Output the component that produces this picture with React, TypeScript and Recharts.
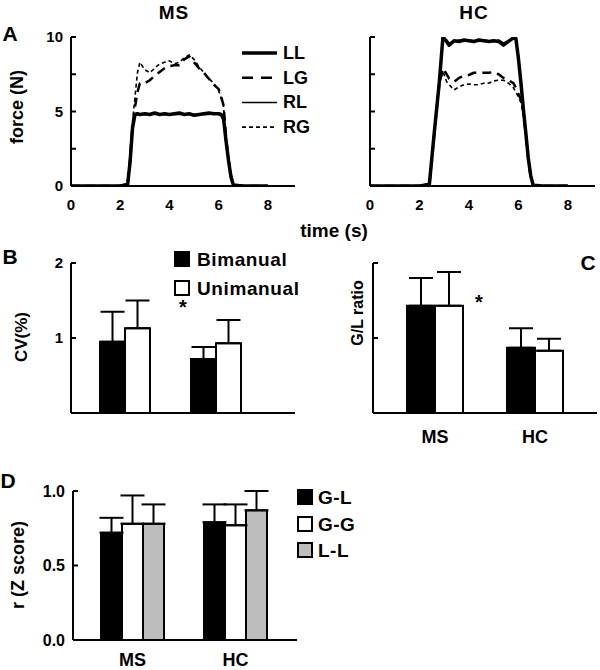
import React from "react";
import { LineChart, Line, XAxis, YAxis, BarChart, Bar, ErrorBar } from "recharts";

const FONT = "'Liberation Sans', Arial, Helvetica, sans-serif";

// ---- panel A: force traces ----
const msTime = [0, 0.5, 1, 1.5, 2, 2.3, 2.4, 2.5, 2.6, 2.7, 2.8, 3.0, 3.2, 3.4, 3.6, 3.8, 4.0, 4.2, 4.4, 4.6, 4.8, 5.0, 5.2, 5.4, 5.6, 5.8, 6.0, 6.1, 6.2, 6.3, 6.4, 6.5, 6.6, 7, 7.5, 8];
const msLL = [0, 0, 0, 0, 0, 0.1, 1.6, 3.9, 4.8, 4.85, 4.8, 4.85, 4.8, 4.9, 4.8, 4.85, 4.8, 4.85, 4.9, 4.8, 4.85, 4.75, 4.8, 4.85, 4.9, 4.85, 4.85, 4.8, 4.5, 3.0, 1.7, 0.6, 0.05, 0, 0, 0];
const msRL = [0, 0, 0, 0, 0, 0.2, 2.0, 4.2, 4.75, 4.8, 4.85, 4.8, 4.85, 4.8, 4.85, 4.8, 4.85, 4.8, 4.8, 4.85, 4.8, 4.8, 4.85, 4.8, 4.8, 4.9, 4.8, 4.75, 4.3, 2.8, 1.5, 0.5, 0.05, 0, 0, 0];
const msLG = [0, 0, 0, 0, 0, 0.1, 1.8, 4.1, 5.3, 6.3, 6.9, 6.9, 7.1, 7.4, 7.65, 7.9, 8.05, 8.1, 8.1, 8.5, 8.7, 8.3, 7.9, 7.6, 7.2, 6.8, 6.5, 6.0, 5.4, 3.2, 1.8, 0.7, 0.1, 0, 0, 0];
const msRG = [0, 0, 0, 0, 0, 0.1, 1.9, 4.3, 6.0, 7.6, 8.3, 7.8, 7.6, 7.9, 8.2, 8.3, 8.4, 8.2, 8.3, 8.6, 8.8, 8.5, 8.0, 7.6, 7.2, 6.9, 6.4, 5.9, 5.3, 3.1, 1.7, 0.6, 0.1, 0, 0, 0];

const hcTime = [0, 0.5, 1, 1.5, 2, 2.4, 2.6, 2.8, 2.95, 3.1, 3.2, 3.4, 3.6, 3.8, 4.0, 4.2, 4.4, 4.6, 4.8, 5.0, 5.2, 5.4, 5.6, 5.8, 5.9, 6.0, 6.1, 6.2, 6.3, 6.4, 6.5, 6.6, 7, 7.5, 8];
const hcLL = [0, 0, 0, 0, 0, 0.1, 3.6, 6.9, 10.0, 9.7, 9.45, 9.75, 9.7, 9.8, 9.75, 9.7, 9.8, 9.75, 9.7, 9.75, 9.7, 9.45, 9.7, 9.95, 9.9, 8.6, 7.0, 5.2, 3.6, 1.9, 0.7, 0.05, 0, 0, 0];
const hcRL = [0, 0, 0, 0, 0, 0.2, 3.8, 7.2, 9.9, 9.8, 9.6, 9.7, 9.8, 9.7, 9.8, 9.75, 9.7, 9.8, 9.75, 9.7, 9.8, 9.6, 9.75, 9.9, 9.85, 8.8, 7.2, 5.4, 3.5, 1.8, 0.6, 0.05, 0, 0, 0];
const hcLG = [0, 0, 0, 0, 0, 0.1, 3.5, 6.8, 7.9, 7.5, 7.2, 7.0, 7.25, 7.4, 7.45, 7.6, 7.6, 7.6, 7.6, 7.65, 7.5, 7.25, 7.1, 6.9, 6.6, 6.2, 5.8, 5.0, 3.5, 1.8, 0.6, 0.05, 0, 0, 0];
const hcRG = [0, 0, 0, 0, 0, 0.1, 3.5, 6.8, 7.7, 7.0, 6.8, 6.45, 6.65, 6.8, 6.85, 6.8, 6.8, 6.9, 6.9, 7.05, 7.1, 7.1, 6.9, 6.6, 6.3, 6.0, 5.6, 4.9, 3.4, 1.7, 0.6, 0.05, 0, 0, 0];

const traceKeys = ["LL", "LG", "RL", "RG"];
const timeTicks = [0, 2, 4, 6, 8];
const forceTicks = [0, 2.5, 5, 7.5, 10];

// ---- panel B: CV ----
const groups = ["MS", "HC"];
const cvBimanual = [0.95, 0.72];
const cvBimanualSd = [0.4, 0.16];
const cvUnimanual = [1.13, 0.93];
const cvUnimanualSd = [0.37, 0.31];

// ---- panel C: G/L ratio ----
const glBimanual = [1.43, 0.87];
const glBimanualSd = [0.37, 0.26];
const glUnimanual = [1.43, 0.83];
const glUnimanualSd = [0.45, 0.16];

// ---- panel D: correlations ----
const corrKeys = ["G-L", "G-G", "L-L"];
const corrGL = [0.72, 0.79];
const corrGLSd = [0.1, 0.12];
const corrGG = [0.78, 0.77];
const corrGGSd = [0.19, 0.14];
const corrLL = [0.78, 0.87];
const corrLLSd = [0.13, 0.13];

const lineStyle: Record<string, { w: number; dash?: string }> = {
  LL: { w: 3.5 },
  LG: { w: 2.5, dash: "9 6" },
  RL: { w: 1.5 },
  RG: { w: 1.6, dash: "4 3" },
};
const corrFill: Record<string, string> = { "G-L": "#000", "G-G": "#fff", "L-L": "#bdbdbd" };

const msData = msTime.map((t, i) => ({ t, LL: msLL[i], RL: msRL[i], LG: msLG[i], RG: msRG[i] }));
const hcData = hcTime.map((t, i) => ({ t, LL: hcLL[i], RL: hcRL[i], LG: hcLG[i], RG: hcRG[i] }));

const cvData = groups.map((g, i) => ({
  group: g,
  bim: cvBimanual[i],
  bimErr: [0, cvBimanualSd[i]],
  uni: cvUnimanual[i],
  uniErr: [0, cvUnimanualSd[i]],
}));
const glData = groups.map((g, i) => ({
  group: g,
  bim: glBimanual[i],
  bimErr: [0, glBimanualSd[i]],
  uni: glUnimanual[i],
  uniErr: [0, glUnimanualSd[i]],
}));
const corrData = groups.map((g, i) => ({
  group: g,
  "G-L": corrGL[i],
  "G-LErr": [0, corrGLSd[i]],
  "G-G": corrGG[i],
  "G-GErr": [0, corrGGSd[i]],
  "L-L": corrLL[i],
  "L-LErr": [0, corrLLSd[i]],
}));

const GAP = 8;

// inward tick mark, label (optional) outside
function makeYTick(show: (v: number) => boolean, fmt: (v: number) => string, size = 15) {
  return (p: any) => {
    const ax = p.x + GAP;
    const v = p.payload.value;
    return (
      <g>
        <line x1={ax} x2={ax + 5} y1={p.y} y2={p.y} stroke="#000" strokeWidth={2} />
        {show(v) && (
          <text x={p.x} y={p.y} dy="0.36em" textAnchor="end" fontFamily={FONT} fontWeight="bold" fontSize={size} fill="#000">
            {fmt(v)}
          </text>
        )}
      </g>
    );
  };
}

const axisLine = { stroke: "#000", strokeWidth: 2 };
const tickFont = { fontFamily: FONT, fontWeight: "bold", fontSize: 15, fill: "#000" } as any;

function T({ x, y, size, children, rot, left, ls }: any) {
  const tr = left ? "translate(0,-50%)" : rot ? "translate(-50%,-50%) rotate(-90deg)" : "translate(-50%,-50%)";
  return (
    <div style={{ position: "absolute", left: x, top: y, transform: tr, fontSize: size, fontWeight: "bold", lineHeight: 1, whiteSpace: "nowrap", fontFamily: FONT, color: "#000", letterSpacing: ls || 0 }}>
      {children}
    </div>
  );
}

function Trace({ data, yw, labels }: { data: any[]; yw: number; labels: boolean }) {
  return (
    <LineChart width={300} height={220} data={data} margin={{ top: 37, right: 5, bottom: 0, left: 0 }}>
      <XAxis dataKey="t" type="number" domain={[0, 9.1]} ticks={timeTicks} axisLine={axisLine} tickLine={false} tickSize={0} tickMargin={13} tick={tickFont} height={34} allowDataOverflow />
      <YAxis type="number" domain={[0, 10]} ticks={forceTicks} width={yw} axisLine={axisLine} tickLine={false} tickSize={0} tickMargin={GAP} allowDataOverflow
        tick={makeYTick((v) => labels && v % 5 === 0, (v) => String(v))} />
      {["RG", "LG", "RL", "LL"].map((k) => (
        <Line key={k} dataKey={k} type="linear" stroke="#000" strokeWidth={lineStyle[k].w} strokeDasharray={lineStyle[k].dash} dot={false} isAnimationActive={false} strokeLinejoin="round" />
      ))}
    </LineChart>
  );
}

function Sq({ x, y, fill }: any) {
  return <div style={{ position: "absolute", left: x, top: y, width: 12, height: 12, border: "2px solid #000", background: fill, transform: "translate(0,-50%)" }} />;
}

export default function App() {
  return (
    <div style={{ position: "absolute", left: 0, top: 0, width: 600, height: 670, background: "#fff", overflow: "hidden" }}>
      {/* A */}
      <div style={{ position: "absolute", left: 0, top: 0 }}>
        <Trace data={msData} yw={71} labels />
      </div>
      <div style={{ position: "absolute", left: 300, top: 0 }}>
        <Trace data={hcData} yw={70} labels={false} />
      </div>
      <svg style={{ position: "absolute", left: 0, top: 0 }} width={300} height={140}>
        {traceKeys.map((k, i) => (
          <line key={k} x1={242} x2={277} y1={53 + i * 24.7} y2={53 + i * 24.7} stroke="#000" strokeWidth={lineStyle[k].w} strokeDasharray={lineStyle[k].dash === "9 6" ? "11 8" : lineStyle[k].dash} />
        ))}
      </svg>
      {traceKeys.map((k, i) => (
        <T key={k} x={283} y={53 + i * 24.7} size={18}>{""}</T>
      ))}
      {traceKeys.map((k, i) => (
        <T key={k + "t"} x={283} y={53 + i * 24.7} size={18} left>{k}</T>
      ))}
      <T x={174} y={12} size={19} ls={1}>MS</T>
      <T x={474} y={12} size={19} ls={1}>HC</T>
      <T x={10} y={33} size={21}>A</T>
      <T x={17} y={107} size={18} rot>force (N)</T>
      <T x={334} y={230} size={19}>time (s)</T>

      {/* B */}
      <div style={{ position: "absolute", left: 0, top: 240 }}>
        <BarChart width={300} height={180} data={cvData} margin={{ top: 23, right: 5, bottom: 2, left: 0 }} barGap={0}>
          <XAxis dataKey="group" axisLine={axisLine} tickLine={false} tick={false} height={5} padding={{ left: 8, right: 34 }} />
          <YAxis type="number" domain={[0, 2]} ticks={[0, 1, 2]} width={71} axisLine={axisLine} tickLine={false} tickSize={0} tickMargin={GAP} allowDataOverflow
            tick={makeYTick(() => true, (v) => String(v))} />
          <Bar dataKey="bim" fill="#000" stroke="#000" strokeWidth={2} barSize={25} isAnimationActive={false}>
            <ErrorBar dataKey="bimErr" width={12} stroke="#000" strokeWidth={2} direction="y" />
          </Bar>
          <Bar dataKey="uni" fill="#fff" stroke="#000" strokeWidth={2} barSize={25} isAnimationActive={false}>
            <ErrorBar dataKey="uniErr" width={12} stroke="#000" strokeWidth={2} direction="y" />
          </Bar>
        </BarChart>
      </div>
      <Sq x={174} y={259} fill="#000" />
      <T x={197} y={259} size={19} left ls={0.6}>Bimanual</T>
      <Sq x={174} y={288} fill="#fff" />
      <T x={197} y={288} size={19} left ls={0.6}>Unimanual</T>
      <T x={183} y={307} size={20}>*</T>
      <T x={10} y={256} size={21}>B</T>
      <T x={21} y={337} size={17} rot>CV(%)</T>

      {/* C */}
      <div style={{ position: "absolute", left: 300, top: 240 }}>
        <BarChart width={300} height={210} data={glData} margin={{ top: 23, right: 3, bottom: 0, left: 0 }} barGap={0}>
          <XAxis dataKey="group" axisLine={axisLine} tickLine={false} tickSize={0} tickMargin={17} tick={{ ...tickFont, fontSize: 18 }} height={37} padding={{ left: 12, right: 12 }} />
          <YAxis type="number" domain={[0, 2]} ticks={[0, 1, 2]} width={73} axisLine={axisLine} tickLine={false} tickSize={0} tickMargin={GAP} allowDataOverflow
            tick={makeYTick(() => false, (v) => String(v))} />
          <Bar dataKey="bim" fill="#000" stroke="#000" strokeWidth={2} barSize={28} isAnimationActive={false}>
            <ErrorBar dataKey="bimErr" width={12} stroke="#000" strokeWidth={2} direction="y" />
          </Bar>
          <Bar dataKey="uni" fill="#fff" stroke="#000" strokeWidth={2} barSize={28} isAnimationActive={false}>
            <ErrorBar dataKey="uniErr" width={12} stroke="#000" strokeWidth={2} direction="y" />
          </Bar>
        </BarChart>
      </div>
      <T x={479} y={302} size={20}>*</T>
      <T x={588} y={262} size={21}>C</T>
      <T x={358} y={313} size={16} rot>G/L ratio</T>

      {/* D */}
      <div style={{ position: "absolute", left: 0, top: 470 }}>
        <BarChart width={300} height={200} data={corrData} margin={{ top: 21, right: 3, bottom: 0, left: 0 }} barGap={0}>
          <XAxis dataKey="group" axisLine={axisLine} tickLine={false} tickSize={0} tickMargin={13} tick={{ ...tickFont, fontSize: 18 }} height={30} padding={{ left: 8, right: 10 }} />
          <YAxis type="number" domain={[0, 1]} ticks={[0, 0.5, 1]} width={73} axisLine={axisLine} tickLine={false} tickSize={0} tickMargin={GAP} allowDataOverflow
            tick={makeYTick(() => true, (v) => v.toFixed(1), 16)} />
          {corrKeys.map((k) => (
            <Bar key={k} dataKey={k} fill={corrFill[k]} stroke="#000" strokeWidth={2} barSize={21} isAnimationActive={false}>
              <ErrorBar dataKey={k + "Err"} width={12} stroke="#000" strokeWidth={2} direction="y" />
            </Bar>
          ))}
        </BarChart>
      </div>
      {corrKeys.map((k, i) => (
        <React.Fragment key={k}>
          <Sq x={297} y={497 + i * 26.5} fill={corrFill[k]} />
          <T x={318} y={497 + i * 26.5} size={19} left ls={0.5}>{k}</T>
        </React.Fragment>
      ))}
      <T x={8} y={480} size={21}>D</T>
      <T x={18} y={565} size={18} rot>r (Z score)</T>
    </div>
  );
}
